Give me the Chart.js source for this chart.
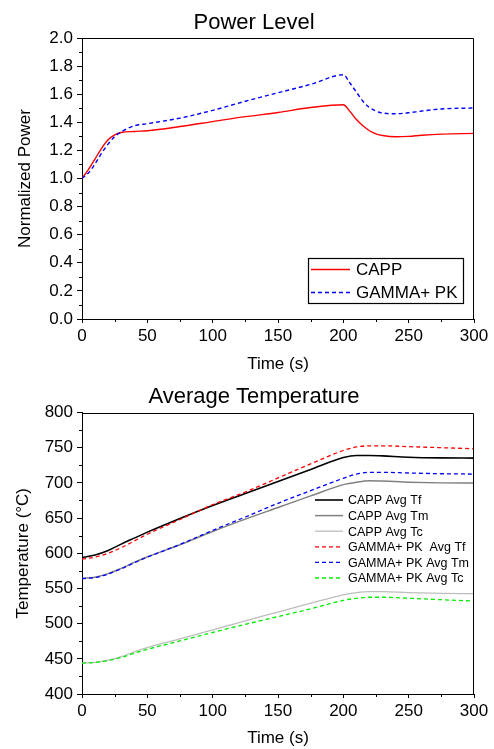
<!DOCTYPE html>
<html>
<head>
<meta charset="utf-8">
<script src="https://cdn.jsdelivr.net/npm/chart.js@4.4.0/dist/chart.umd.min.js"></script>
<style>
  body { margin: 0; background: #fff; }
  .wrap { position: relative; width: 494px; }
</style>
</head>
<body>
<div class="wrap" style="height:375px"><canvas id="powerChart"></canvas></div>
<div class="wrap" style="height:374px"><canvas id="tempChart"></canvas></div>
<script>
// data
const timePower = [0, 5, 10, 15, 20, 25, 30, 40, 50, 75, 100, 125, 150, 175, 200, 205, 210, 215, 220, 225, 230, 240, 250, 260, 275, 300];
const cappPower = [1.0, 1.065, 1.14, 1.215, 1.275, 1.31, 1.327, 1.335, 1.34, 1.37, 1.405, 1.44, 1.47, 1.505, 1.525, 1.478, 1.42, 1.375, 1.34, 1.318, 1.306, 1.297, 1.30, 1.308, 1.316, 1.321];
const gammaPower = [1.0, 1.04, 1.105, 1.18, 1.245, 1.298, 1.332, 1.375, 1.39, 1.43, 1.485, 1.55, 1.61, 1.67, 1.738, 1.68, 1.615, 1.55, 1.505, 1.48, 1.466, 1.461, 1.468, 1.48, 1.495, 1.502];

const timeTemp = [0, 10, 20, 30, 40, 50, 75, 100, 125, 150, 175, 200, 210, 220, 230, 250, 275, 300];
const cappTf = [594, 597.5, 604, 613, 621.5, 630, 649.5, 668, 685, 702, 719, 736, 739, 739, 738.3, 736.5, 735.5, 735.2];
const cappTm = [564.2, 566, 571, 578.5, 587, 595, 612, 631, 648.5, 665, 681.5, 697.5, 701, 703, 702.5, 701, 700, 699.7];
const cappTc = [444, 445, 448, 453, 460, 466, 478.5, 491, 504, 516.5, 529, 541, 544, 545.5, 545.5, 544, 543, 542.5];
const gammaTf = [591.5, 594.5, 600, 608, 617.5, 627, 648, 669, 687, 707, 727, 746, 751, 752.7, 752.7, 751.5, 750, 748.5];
const gammaTm = [564, 565.5, 570.5, 578, 586.5, 594.5, 612.5, 632.5, 651.5, 671, 689, 706.5, 712.5, 715, 715, 714, 713, 712.5];
const gammaTc = [444, 444.8, 447.5, 452, 458, 463.5, 475.5, 487.5, 499, 510, 521, 533, 536, 537.5, 537.5, 536, 534, 532];

const minorTime = [25, 75, 125, 175, 225, 275];
const minorPower = [0.1, 0.3, 0.5, 0.7, 0.9, 1.1, 1.3, 1.5, 1.7, 1.9];
const minorTemp = [425, 475, 525, 575, 625, 675, 725, 775];

const FONT = "'Liberation Sans', Arial, Helvetica, sans-serif";
Chart.defaults.font.family = FONT;
Chart.defaults.color = "#000";

function pts(xs, ys) {
  return xs.map((x, i) => ({ x: x, y: ys[i] }));
}

// judul, kotak grafik, tick minor, legenda di dalam area plot
const framePlugin = {
  id: "frame",
  afterDraw(chart, args, opts) {
    const ctx = chart.ctx;
    const a = chart.chartArea;
    const sx = chart.scales.x, sy = chart.scales.y;
    ctx.save();

    ctx.fillStyle = "#000";
    ctx.font = "22px " + FONT;
    ctx.textAlign = "center";
    ctx.textBaseline = "alphabetic";
    ctx.fillText(opts.title, opts.titleX, opts.titleY);

    ctx.strokeStyle = "#000";
    ctx.lineWidth = 1;
    ctx.beginPath();
    const t = Math.round(a.top) + 0.5, r = Math.round(a.right) - 0.5;
    ctx.moveTo(a.left, t);
    ctx.lineTo(r, t);
    ctx.lineTo(r, a.bottom);
    opts.minorX.forEach(v => {
      const px = Math.round(sx.getPixelForValue(v)) + 0.5;
      ctx.moveTo(px, a.bottom);
      ctx.lineTo(px, a.bottom + 3);
    });
    opts.minorY.forEach(v => {
      const py = Math.round(sy.getPixelForValue(v)) + 0.5;
      ctx.moveTo(a.left, py);
      ctx.lineTo(a.left - 3, py);
    });
    ctx.stroke();

    const lg = opts.legend;
    if (lg.box) {
      ctx.lineWidth = 1.2;
      ctx.strokeRect(lg.box[0], lg.box[1], lg.box[2], lg.box[3]);
    }
    ctx.font = lg.fontSize + "px " + FONT;
    ctx.textAlign = "left";
    ctx.textBaseline = "middle";
    lg.order.forEach((di, i) => {
      const ds = chart.data.datasets[di];
      const yy = lg.y + i * lg.step;
      ctx.strokeStyle = ds.borderColor;
      ctx.lineWidth = ds.borderWidth;
      ctx.setLineDash(ds.borderDash || []);
      ctx.beginPath();
      ctx.moveTo(lg.x0, yy);
      ctx.lineTo(lg.x1, yy);
      ctx.stroke();
      ctx.setLineDash([]);
      ctx.fillText(lg.labels[i], lg.tx, yy + 1);
    });
    ctx.restore();
  }
};

function axisX(height, titlePad) {
  return {
    type: "linear", min: 0, max: 300,
    ticks: { stepSize: 50, font: { size: 17 }, padding: 3, maxRotation: 0 },
    grid: { drawOnChartArea: false, tickLength: 4, color: "#000", tickColor: "#000" },
    border: { color: "#000", width: 1 },
    title: { display: true, text: "Time (s)", font: { size: 17 }, padding: { top: 0, bottom: titlePad } },
    afterFit(s) { s.height = height; }
  };
}

function axisY(min, max, step, text, titlePad, fmt) {
  return {
    min: min, max: max,
    ticks: { stepSize: step, font: { size: 17 }, padding: 4, callback: fmt },
    grid: { drawOnChartArea: false, tickLength: 5, color: "#000", tickColor: "#000" },
    border: { color: "#000", width: 1 },
    title: { display: true, text: text, font: { size: 17 }, padding: { top: titlePad, bottom: 0 } },
    afterFit(s) { s.width = 82; }
  };
}

const lineBase = { pointRadius: 0, fill: false, cubicInterpolationMode: "monotone" };

new Chart(document.getElementById("powerChart"), {
  type: "line",
  data: {
    datasets: [
      Object.assign({ label: "CAPP", data: pts(timePower, cappPower), borderColor: "#ff0000", borderWidth: 1.4, order: 2 }, lineBase),
      Object.assign({ label: "GAMMA+ PK", data: pts(timePower, gammaPower), borderColor: "#0000ff", borderWidth: 1.4, borderDash: [4, 3], order: 1 }, lineBase)
    ]
  },
  options: {
    responsive: true, maintainAspectRatio: false, animation: false,
    layout: { padding: { left: 0, right: 20, top: 38, bottom: 0 } },
    plugins: {
      legend: { display: false },
      tooltip: { enabled: false },
      title: { display: false },
      frame: {
        title: "Power Level", titleX: 254, titleY: 29,
        minorX: minorTime,
        minorY: minorPower,
        legend: { box: [308.5, 258.5, 155, 45], x0: 311, x1: 350, tx: 356, y: 269.5, step: 23, fontSize: 17, order: [0, 1], labels: ["CAPP", "GAMMA+ PK"] }
      }
    },
    scales: {
      x: axisX(56, 0),
      y: axisY(0, 2, 0.2, "Normalized Power", 15, v => v.toFixed(1))
    }
  },
  plugins: [framePlugin]
});

new Chart(document.getElementById("tempChart"), {
  type: "line",
  data: {
    datasets: [
      Object.assign({ label: "CAPP Avg Tf", data: pts(timeTemp, cappTf), borderColor: "#000000", borderWidth: 1.6, order: 4 }, lineBase),
      Object.assign({ label: "CAPP Avg Tm", data: pts(timeTemp, cappTm), borderColor: "#808080", borderWidth: 1.5, order: 5 }, lineBase),
      Object.assign({ label: "CAPP Avg Tc", data: pts(timeTemp, cappTc), borderColor: "#bdbdbd", borderWidth: 1.3, order: 6 }, lineBase),
      Object.assign({ label: "GAMMA+ PK  Avg Tf", data: pts(timeTemp, gammaTf), borderColor: "#ff0000", borderWidth: 1.3, borderDash: [4, 3], order: 1 }, lineBase),
      Object.assign({ label: "GAMMA+ PK Avg Tm", data: pts(timeTemp, gammaTm), borderColor: "#0000ff", borderWidth: 1.3, borderDash: [4, 3], order: 2 }, lineBase),
      Object.assign({ label: "GAMMA+ PK Avg Tc", data: pts(timeTemp, gammaTc), borderColor: "#00ee00", borderWidth: 1.3, borderDash: [4, 3], order: 3 }, lineBase)
    ]
  },
  options: {
    responsive: true, maintainAspectRatio: false, animation: false,
    layout: { padding: { left: 0, right: 20, top: 37.5, bottom: 0 } },
    plugins: {
      legend: { display: false },
      tooltip: { enabled: false },
      title: { display: false },
      frame: {
        title: "Average Temperature", titleX: 254, titleY: 28,
        minorX: minorTime,
        minorY: minorTemp,
        legend: { box: null, x0: 315, x1: 343, tx: 348, y: 125, step: 15.6, fontSize: 12.5, order: [0, 1, 2, 3, 4, 5],
          labels: ["CAPP Avg Tf", "CAPP Avg Tm", "CAPP Avg Tc", "GAMMA+ PK  Avg Tf", "GAMMA+ PK Avg Tm", "GAMMA+ PK Avg Tc"] }
      }
    },
    scales: {
      x: axisX(55, 0),
      y: axisY(400, 800, 50, "Temperature (°C)", 13, v => v)
    }
  },
  plugins: [framePlugin]
});
</script>
</body>
</html>
